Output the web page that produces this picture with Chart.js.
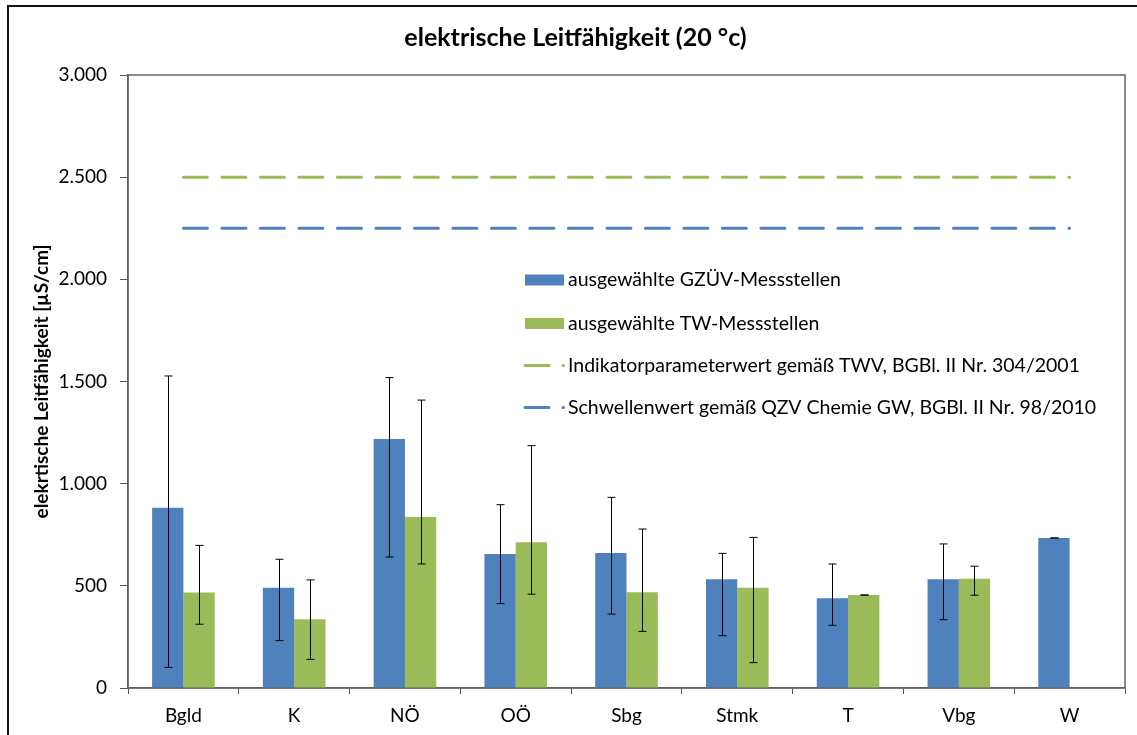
<!DOCTYPE html>
<html>
<head>
<meta charset="utf-8">
<script src="https://cdn.jsdelivr.net/npm/chart.js@4/dist/chart.umd.min.js"></script>
<style>
  html, body { margin: 0; padding: 0; background: #fff; overflow: hidden; }
  #frame { position: absolute; left: 7px; top: 5px; width: 1160px; height: 760px; border: 2px solid #111; }
  #wrap { position: absolute; left: 0; top: 0; width: 1137px; height: 735px; }
</style>
</head>
<body>
<div id="frame"></div>
<div id="wrap"><canvas id="chart"></canvas></div>
<script>
var categories = ['Bgld', 'K', 'NÖ', 'OÖ', 'Sbg', 'Stmk', 'T', 'Vbg', 'W'];
// mean values with min / max for the error bars
var gzuvMean = [882, 491, 1219, 656, 661, 532, 439, 532, 734];
var gzuvMax  = [1527, 630, 1519, 897, 933, 659, 607, 705, 734];
var gzuvMin  = [101, 232, 641, 413, 362, 256, 307, 334, 734];
var twMean = [467, 336, 837, 713, 468, 491, 455, 535, null];
var twMax  = [698, 529, 1409, 1186, 778, 737, 455, 596, null];
var twMin  = [312, 140, 607, 459, 277, 124, 455, 454, null];
var twvLimit = 2500; // Indikatorparameterwert TWV
var qzvLimit = 2250; // Schwellenwert QZV
var yTicks = [0, 500, 1000, 1500, 2000, 2500, 3000];

var BLUE = '#4F81BD';
var GREEN = '#9BBB59';
var FONT = 'Lato, "Open Sans", sans-serif';

function fmt(v){
  return v.toString().replace(/\B(?=(\d{3})+(?!\d))/g, '.');
}

var errorBars = {
  id: 'errorBars',
  afterDatasetsDraw: function(chart){
    var ctx = chart.ctx;
    var y = chart.scales.y;
    var ranges = [[gzuvMin, gzuvMax], [twMin, twMax]];
    ctx.save();
    ctx.strokeStyle = '#000';
    ctx.lineWidth = 1;
    for (let d = 0; d < 2; d++){
      let meta = chart.getDatasetMeta(d);
      meta.data.forEach(function(bar, i){
        let lo = ranges[d][0][i], hi = ranges[d][1][i];
        if (lo == null || hi == null) return;
        let x = Math.round(bar.x) + 0.5;
        let y1 = y.getPixelForValue(hi), y2 = y.getPixelForValue(lo);
        ctx.beginPath();
        ctx.moveTo(x, y1); ctx.lineTo(x, y2);
        ctx.moveTo(x - 4, y1); ctx.lineTo(x + 4, y1);
        ctx.moveTo(x - 4, y2); ctx.lineTo(x + 4, y2);
        ctx.stroke();
      });
    }
    ctx.restore();
  }
};

var plotFrame = {
  id: 'plotFrame',
  beforeDatasetsDraw: function(chart){
    var a = chart.chartArea, ctx = chart.ctx;
    ctx.save();
    ctx.strokeStyle = '#666';
    ctx.lineWidth = 1.5;
    ctx.strokeRect(a.left, a.top, a.right - a.left, a.bottom - a.top);
    ctx.restore();
  }
};

// legend drawn inside the plot area
var innerLegend = {
  id: 'innerLegend',
  afterDraw: function(chart){
    var ctx = chart.ctx;
    var x0 = 525, rowY = [280, 323.5, 365.5, 407.5];
    ctx.save();
    ctx.font = '19.5px ' + FONT;
    ctx.textBaseline = 'middle';
    chart.data.datasets.forEach(function(ds, i){
      let yy = rowY[i];
      if (ds.type === 'line'){
        ctx.strokeStyle = ds.borderColor;
        ctx.lineWidth = 3;
        ctx.lineCap = 'round';
        ctx.beginPath();
        ctx.moveTo(x0, yy); ctx.lineTo(x0 + 24, yy);
        ctx.moveTo(x0 + 38, yy); ctx.lineTo(x0 + 38.5, yy);
        ctx.stroke();
      } else {
        ctx.fillStyle = ds.backgroundColor;
        ctx.fillRect(x0, yy - 5.5, 39, 11);
      }
      ctx.fillStyle = '#000';
      ctx.fillText(ds.label, x0 + 43, yy);
    });
    ctx.restore();
  }
};

new Chart(document.getElementById('chart'), {
  type: 'bar',
  data: {
    labels: categories,
    datasets: [
      { label: 'ausgewählte GZÜV-Messstellen', data: gzuvMean, backgroundColor: BLUE, order: 2 },
      { label: 'ausgewählte TW-Messstellen', data: twMean, backgroundColor: GREEN, order: 2 },
      { type: 'line', label: 'Indikatorparameterwert gemäß TWV, BGBl. II Nr. 304/2001',
        data: categories.map(function(){ return twvLimit; }),
        borderColor: GREEN, borderWidth: 3, borderDash: [24, 14.5], borderCapStyle: 'round',
        pointRadius: 0, fill: false, order: 1 },
      { type: 'line', label: 'Schwellenwert gemäß QZV Chemie GW, BGBl. II Nr. 98/2010',
        data: categories.map(function(){ return qzvLimit; }),
        borderColor: BLUE, borderWidth: 3, borderDash: [24, 14.5], borderCapStyle: 'round',
        pointRadius: 0, fill: false, order: 1 }
    ]
  },
  options: {
    responsive: true,
    maintainAspectRatio: false,
    animation: false,
    datasets: { bar: { categoryPercentage: 0.565, barPercentage: 1 } },
    layout: { padding: { left: 26, right: 12, top: 0, bottom: 0 } },
    plugins: {
      legend: { display: false },
      tooltip: { enabled: false },
      title: {
        display: true,
        text: 'elektrische Leitfähigkeit (20 °c)',
        color: '#000',
        font: { family: FONT, size: 25, weight: 'bold' },
        padding: { top: 23, bottom: 22 }
      }
    },
    scales: {
      x: {
        grid: { display: true, drawOnChartArea: false, drawTicks: true, tickLength: 6, offset: true, color: '#555' },
        border: { color: '#555', width: 1.5 },
        ticks: { color: '#000', font: { family: FONT, size: 19 }, padding: 10 },
        afterFit: function(s){ s.height = 47; }
      },
      y: {
        min: 0, max: 3000,
        afterBuildTicks: function(s){ s.ticks = yTicks.map(function(v){ return { value: v }; }); },
        grid: { display: true, drawOnChartArea: false, drawTicks: true, tickLength: 8, color: '#555' },
        border: { color: '#555', width: 1.5 },
        ticks: { color: '#000', font: { family: FONT, size: 19 }, padding: 13,
                 callback: function(v){ return fmt(v); } },
        title: { display: true, text: 'elekrtische Leitfähigkeit [µS/cm]', color: '#000',
                 font: { family: FONT, size: 19, weight: 'bold' }, padding: { top: 4, bottom: 0 } },
        afterFit: function(s){ s.width = 102; }
      }
    }
  },
  plugins: [plotFrame, errorBars, innerLegend]
});
</script>
</body>
</html>
